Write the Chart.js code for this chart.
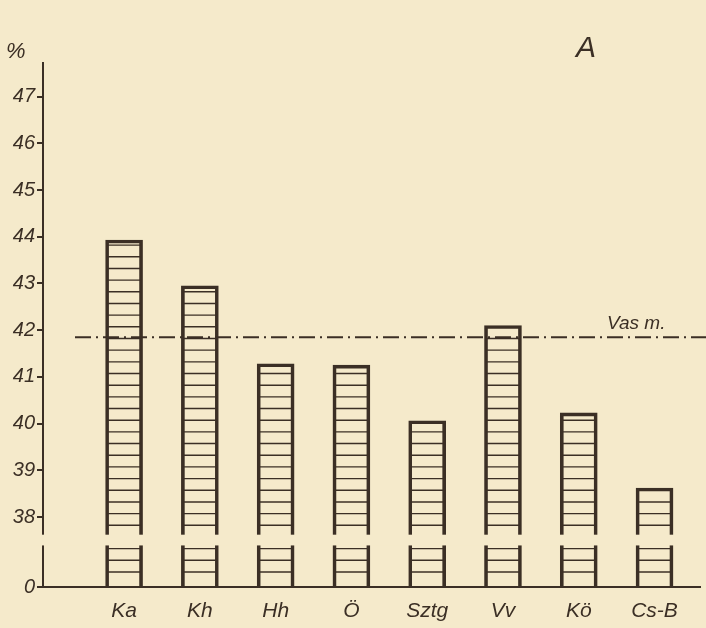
<!DOCTYPE html>
<html>
<head>
<meta charset="utf-8">
<script src="https://cdn.jsdelivr.net/npm/chart.js@4.4.1/dist/chart.umd.min.js"></script>
<style>
  html, body { margin: 0; padding: 0; background: #f5eacb; }
  #wrap { width: 706px; height: 628px; position: relative; }
</style>
</head>
<body>
<div id="wrap"><canvas id="chart" width="706" height="628"></canvas></div>
<script>
// adatok
const kategoriak = ["Ka", "Kh", "Hh", "Ö", "Sztg", "Vv", "Kö", "Cs-B"];
const ertekek = [43.93, 42.95, 41.28, 41.25, 40.06, 42.1, 40.23, 38.62];
const yTickek = [38, 39, 40, 41, 42, 43, 44, 45, 46, 47];
const nullaHelye = 36.5;   // itt van a "0" a megtört tengelyen
const vasMegye = 41.85;     // "Vas m." átlag

const PAPIR = "#f5eacb";
const TINTA = "#3b2f25";

const hatter = {
  id: "hatter",
  beforeDraw(chart) {
    const c = chart.ctx;
    c.save();
    c.fillStyle = PAPIR;
    c.fillRect(0, 0, chart.width, chart.height);
    c.restore();
  }
};

// vízszintes vonalkázás az oszlopokban + tengelytörés + átlagvonal + feliratok
const rajz = {
  id: "rajz",
  afterDatasetsDraw(chart) {
    const c = chart.ctx;
    const y = chart.scales.y;
    const lepes = Math.abs(y.getPixelForValue(38) - y.getPixelForValue(38.25));
    c.save();
    c.strokeStyle = TINTA;
    c.lineWidth = 1.4;
    chart.getDatasetMeta(0).data.forEach(bar => {
      const p = bar.getProps(["x", "y", "base", "width"], true);
      const l = p.x - p.width / 2 + 2, r = p.x + p.width / 2 - 2;
      const alja = Math.min(p.base, chart.chartArea.bottom);
      for (let yy = alja - 14; yy > p.y + 3; yy -= lepes) {
        c.beginPath();
        c.moveTo(l, yy);
        c.lineTo(r, yy);
        c.stroke();
      }
    });

    // tengelytörés
    const t1 = y.getPixelForValue(37.62), t2 = y.getPixelForValue(37.39);
    c.fillStyle = PAPIR;
    c.fillRect(30, t1, chart.width - 30, t2 - t1);

    // Vas m. vonal
    const vy = y.getPixelForValue(vasMegye);
    c.lineWidth = 2;
    c.setLineDash([16, 5, 2, 5]);
    c.beginPath();
    c.moveTo(75, vy);
    c.lineTo(chart.width, vy);
    c.stroke();
    c.setLineDash([]);

    c.fillStyle = TINTA;
    c.font = "italic 19px 'Liberation Sans', 'DejaVu Sans', sans-serif";
    c.textBaseline = "alphabetic";
    c.fillText("Vas m.", 607, vy - 8);

    c.font = "italic 22px 'Liberation Sans', 'DejaVu Sans', sans-serif";
    c.fillText("%", 6, 58);
    c.font = "italic 30px 'Liberation Sans', 'DejaVu Sans', sans-serif";
    c.fillText("A", 576, 57);
    c.restore();
  }
};

new Chart(document.getElementById("chart"), {
  type: "bar",
  data: {
    datasets: [{
      data: ertekek.map((v, i) => ({ x: i, y: v })),
      base: nullaHelye,
      backgroundColor: "rgba(0,0,0,0)",
      borderColor: TINTA,
      borderWidth: 3,
      borderSkipped: "bottom",
      barThickness: 37
    }]
  },
  options: {
    responsive: false,
    animation: false,
    layout: { padding: { top: 63, right: 6, left: 0, bottom: 0 } },
    plugins: { legend: { display: false }, tooltip: { enabled: false } },
    scales: {
      x: {
        type: "linear",
        offset: false,
        min: -1.07,
        max: 7.6,
        grid: { display: false },
        border: { display: true, color: TINTA, width: 2 },
        afterBuildTicks: s => { s.ticks = kategoriak.map((k, i) => ({ value: i })); },
        afterFit: s => { s.height = 41; },
        ticks: {
          color: TINTA,
          font: { family: "'Liberation Sans', 'DejaVu Sans', sans-serif", size: 21, style: "italic" },
          padding: 4,
          autoSkip: false,
          maxRotation: 0,
          callback: v => kategoriak[v]
        }
      },
      y: {
        min: nullaHelye,
        max: 47.72,
        grid: { display: true, drawOnChartArea: false, color: TINTA, lineWidth: 2, tickLength: 6 },
        border: { display: true, color: TINTA, width: 2 },
        afterBuildTicks: s => { s.ticks = [nullaHelye].concat(yTickek).map(v => ({ value: v })); },
        afterFit: s => { s.width = 43; },
        ticks: {
          color: TINTA,
          font: { family: "'Liberation Sans', 'DejaVu Sans', sans-serif", size: 20, style: "italic" },
          padding: 2,
          callback: v => v === nullaHelye ? "0" : String(v)
        }
      }
    }
  },
  plugins: [hatter, rajz]
});
</script>
</body>
</html>
